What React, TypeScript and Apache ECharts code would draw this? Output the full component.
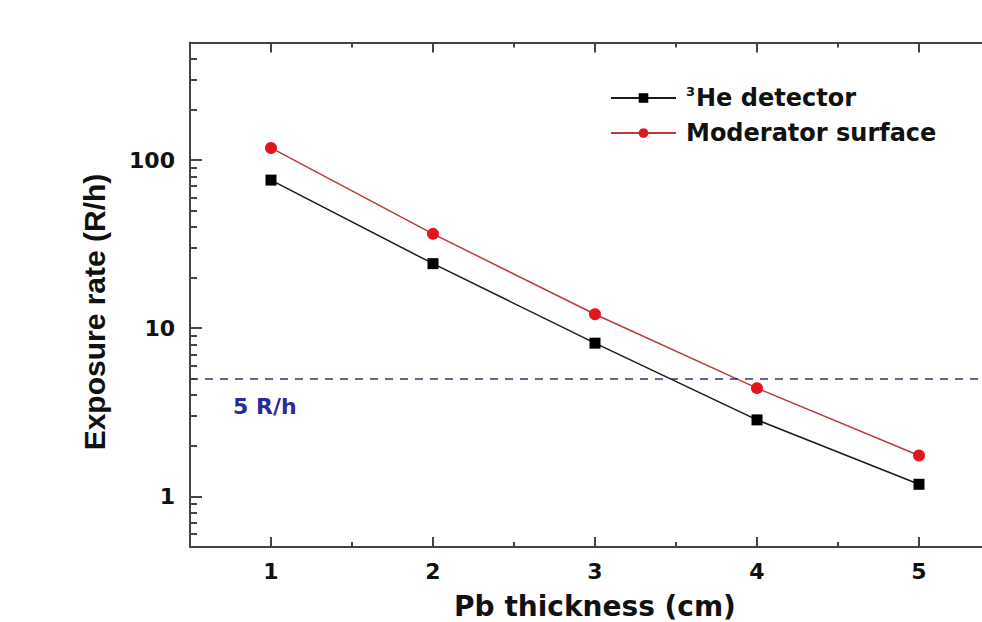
import React, { useEffect, useRef } from "react";
import * as echarts from "echarts";

const thickness = [1, 2, 3, 4, 5];
const heDetector = [76, 24.2, 8.15, 2.85, 1.18];
const moderatorSurface = [118, 36.4, 12.1, 4.4, 1.75];
const limitValue = 5;
const xMajorTicks = [1, 2, 3, 4, 5];
const xMinorTicks = [1.5, 2.5, 3.5, 4.5];
const yMajorTicks = [1, 10, 100];
const yMinorTicks = [0.6, 0.7, 0.8, 0.9, 2, 3, 4, 5, 6, 7, 8, 9, 20, 30, 40, 50, 60, 70, 80, 90, 200, 300, 400];

const FONT = "DejaVu Sans";
const AXIS_COLOR = "#444";

export default function App() {
  const ref = useRef<HTMLDivElement>(null);
  useEffect(() => {
    if (!ref.current) return;
    const chart = echarts.init(ref.current, null, { renderer: "svg" });
    const xBase = { type: "value", min: 0.5, max: 5.5, gridIndex: 0, splitLine: { show: false } };
    const yBase = { type: "log", logBase: 10, min: 0.5, max: 500, splitLine: { show: false } };
    chart.setOption({
      animation: false,
      backgroundColor: "#fff",
      grid: { left: 190, top: 42.5, right: -18, bottom: 75, containLabel: false, outerBoundsMode: "none" },
      legend: {
        orient: "vertical",
        left: 605,
        top: 80,
        itemWidth: 65,
        itemHeight: 12,
        itemGap: 9,
        data: ["3He detector", "Moderator surface"],
        formatter: (name: string) =>
          name === "3He detector" ? "{sup|3}{t|He detector}" : "{t|" + name + "}",
        textStyle: {
          padding: [0, 0, 0, 5],
          lineHeight: 26,
          rich: {
            sup: { fontFamily: FONT, fontWeight: "bold", fontSize: 13, color: "#111", verticalAlign: "top", lineHeight: 22, padding: [0, 1, 0, 0] },
            t: { fontFamily: FONT, fontWeight: "bold", fontSize: 24, color: "#111", lineHeight: 26 },
          },
        },
      },
      xAxis: [
        {
          ...xBase,
          position: "bottom",
          name: "Pb thickness (cm)",
          nameLocation: "middle",
          nameGap: 45,
          nameTextStyle: { fontFamily: FONT, fontWeight: "bold", fontSize: 28, color: "#111" },
          axisLine: { show: true, lineStyle: { color: AXIS_COLOR, width: 2 } },
          axisTick: { show: true, inside: true, length: 10, customValues: xMajorTicks, lineStyle: { color: AXIS_COLOR, width: 2 } },
          axisLabel: { customValues: xMajorTicks, margin: 13, fontFamily: FONT, fontWeight: "bold", fontSize: 22, color: "#111" },
        },
        {
          ...xBase,
          position: "bottom",
          axisLine: { show: false },
          axisTick: { show: true, inside: true, length: 5, customValues: xMinorTicks, lineStyle: { color: AXIS_COLOR, width: 2 } },
          axisLabel: { show: false },
        },
        {
          ...xBase,
          position: "top",
          axisLine: { show: true, lineStyle: { color: AXIS_COLOR, width: 2 } },
          axisTick: { show: true, inside: true, length: 10, customValues: xMajorTicks, lineStyle: { color: AXIS_COLOR, width: 2 } },
          axisLabel: { show: false },
        },
        {
          ...xBase,
          position: "top",
          axisLine: { show: false },
          axisTick: { show: true, inside: true, length: 5, customValues: xMinorTicks, lineStyle: { color: AXIS_COLOR, width: 2 } },
          axisLabel: { show: false },
        },
      ],
      yAxis: [
        {
          ...yBase,
          position: "left",
          axisLine: { show: true, lineStyle: { color: AXIS_COLOR, width: 2 } },
          axisTick: { show: true, inside: true, length: 12, customValues: yMajorTicks, lineStyle: { color: AXIS_COLOR, width: 2 } },
          axisLabel: { customValues: yMajorTicks, margin: 15, fontFamily: FONT, fontWeight: "bold", fontSize: 22, color: "#111" },
        },
        {
          ...yBase,
          position: "left",
          axisLine: { show: false },
          axisTick: { show: true, inside: true, length: 7, customValues: yMinorTicks, lineStyle: { color: AXIS_COLOR, width: 2 } },
          axisLabel: { show: false },
        },
      ],
      graphic: [
        {
          type: "text",
          x: 94,
          y: 312,
          rotation: Math.PI / 2,
          style: {
            text: "Exposure rate (R/h)",
            font: "bold 30px 'Liberation Sans'",
            fill: "#111",
            align: "center",
            verticalAlign: "middle",
          },
        },
        {
          type: "text",
          x: 233,
          y: 406,
          style: {
            text: "5 R/h",
            font: "bold 22px 'DejaVu Sans'",
            fill: "#2a2a9c",
            align: "left",
            verticalAlign: "middle",
          },
        },
      ],
      series: [
        {
          name: "3He detector",
          type: "line",
          xAxisIndex: 0,
          yAxisIndex: 0,
          data: thickness.map((x, i) => [x, heDetector[i]]),
          symbol: "rect",
          symbolSize: 11,
          lineStyle: { color: "#1a1a1a", width: 1.5 },
          itemStyle: { color: "#000" },
          markLine: {
            silent: true,
            symbol: "none",
            label: { show: false },
            lineStyle: { color: "#34346e", width: 1.6, type: [8, 7] },
            data: [{ yAxis: limitValue }],
          },
        },
        {
          name: "Moderator surface",
          type: "line",
          xAxisIndex: 0,
          yAxisIndex: 0,
          data: thickness.map((x, i) => [x, moderatorSurface[i]]),
          symbol: "circle",
          symbolSize: 12,
          lineStyle: { color: "#b83a3a", width: 1.5 },
          itemStyle: { color: "#e3141c" },
        },
      ],
    });
    return () => chart.dispose();
  }, []);
  return <div ref={ref} style={{ position: "absolute", left: 0, top: 0, width: 982, height: 622 }} />;
}
